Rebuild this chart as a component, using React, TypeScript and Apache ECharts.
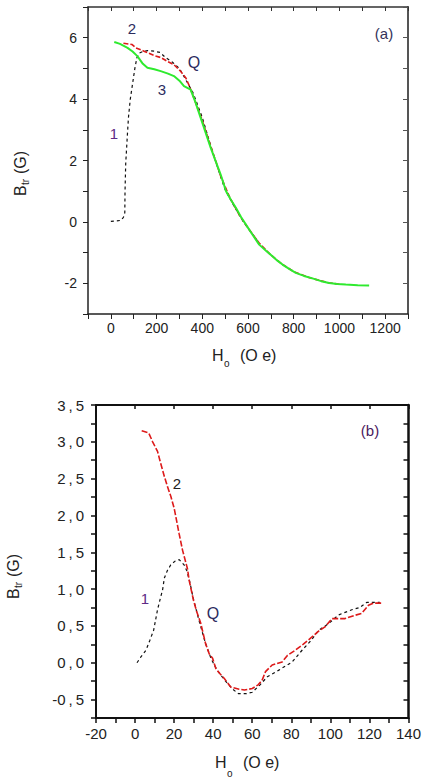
import React, { useEffect, useRef } from "react";
import * as echarts from "echarts";

// ---------- Data: panel (a) ----------
const curveA1: [number, number][] = [
  [0, 0.02], [20, 0.03], [44, 0.05], [55, 0.15], [61, 0.3], [62, 1.0], [65, 1.9], [72, 2.8],
  [77, 3.4], [85, 4.0], [95, 4.5], [105, 5.0], [114, 5.35], [125, 5.5], [140, 5.55], [160, 5.58],
  [190, 5.56], [215, 5.52], [240, 5.35], [270, 5.2], [300, 5.0], [330, 4.6], [360, 4.2], [400, 3.4],
  [440, 2.4], [470, 1.7], [500, 1.05], [540, 0.5], [580, 0.0], [620, -0.4], [650, -0.7],
];
const curveA2: [number, number][] = [
  [55, 5.82], [92, 5.78], [109, 5.67], [145, 5.56], [189, 5.42], [220, 5.35], [247, 5.23],
  [276, 5.12], [306, 4.9], [328, 4.69], [345, 4.4], [370, 3.9], [400, 3.3], [440, 2.4], [480, 1.5],
  [520, 0.8], [560, 0.25], [600, -0.2], [650, -0.7], [700, -1.08], [750, -1.38], [800, -1.62],
  [870, -1.82], [900, -1.88], [950, -1.98], [1000, -2.03],
];
const curveA3: [number, number][] = [
  [15, 5.86], [40, 5.8], [73, 5.67], [95, 5.55], [116, 5.4], [140, 5.15], [160, 5.02], [190, 4.97],
  [218, 4.91], [250, 4.83], [276, 4.75], [300, 4.6], [320, 4.42], [349, 4.31], [370, 3.9],
  [393, 3.39], [415, 2.9], [437, 2.41], [460, 1.95], [480, 1.55], [504, 1.0], [525, 0.72],
  [547, 0.46], [570, 0.15], [591, -0.09], [620, -0.42], [649, -0.74], [680, -0.95], [707, -1.12],
  [730, -1.27], [751, -1.39], [780, -1.53], [809, -1.66], [845, -1.76], [882, -1.84], [920, -1.93],
  [955, -1.99], [990, -2.02], [1028, -2.04], [1080, -2.06], [1130, -2.07],
];

// ---------- Data: panel (b) ----------
const curveB1: [number, number][] = [
  [1, 0], [3, 0.08], [5.6, 0.17], [7.5, 0.3], [9.5, 0.44], [11.5, 0.72], [13, 0.88], [14.1, 0.99],
  [15, 1.15], [16.5, 1.25], [18.3, 1.33], [20.5, 1.38], [22.6, 1.4], [24, 1.36], [25.1, 1.33],
  [26.5, 1.25], [28, 1.1], [30, 0.85], [33, 0.55], [36, 0.27], [39, 0.05], [42, -0.1], [46, -0.24],
  [50, -0.36], [53, -0.42], [57, -0.42], [60, -0.4], [64, -0.3], [67.7, -0.19], [73.6, -0.1],
  [80.4, 0.01], [85.5, 0.17], [90, 0.3], [94, 0.44], [99, 0.53], [104.2, 0.65], [111, 0.72],
  [115, 0.75], [118.6, 0.82], [125.3, 0.82],
];
const curveB2: [number, number][] = [
  [3.4, 3.15], [7, 3.12], [9, 3.0], [11.5, 2.87], [13, 2.72], [15, 2.53], [16.5, 2.4], [18.3, 2.26],
  [20, 2.1], [20.9, 1.98], [22.5, 1.76], [24.3, 1.53], [26.8, 1.28], [27.7, 1.12], [29.9, 0.85],
  [31.5, 0.7], [33.6, 0.54], [36.1, 0.26], [38, 0.12], [39.7, 0.06], [41.4, -0.08], [43.5, -0.15],
  [45.6, -0.21], [49, -0.33], [53.3, -0.36], [56, -0.37], [60, -0.35], [63, -0.3], [65, -0.24],
  [66.8, -0.12], [70.2, -0.03], [75.3, 0.01], [78, 0.1], [82, 0.17], [86, 0.25], [90.6, 0.35],
  [94, 0.43], [97.4, 0.49], [100.8, 0.6], [107.5, 0.6], [112, 0.64], [116, 0.67], [119.5, 0.78],
  [122, 0.81], [126, 0.81],
];

const FONT = "'Liberation Sans', Arial, sans-serif";
const TXT = "#222";

function axisBase(color: string, width: number) {
  return {
    type: "value" as const,
    axisLine: { show: true, onZero: false, lineStyle: { color, width } },
    splitLine: { show: false },
  };
}

function yTitle(cx: number, cy: number) {
  return {
    type: "group",
    x: cx,
    y: cy,
    rotation: Math.PI / 2,
    silent: true,
    children: [
      { type: "text", x: -26, y: 0, style: { text: "B", fontSize: 16, fontFamily: FONT, fill: TXT, align: "left", verticalAlign: "middle" } },
      { type: "text", x: -15, y: 5, style: { text: "tr", fontSize: 10, fontFamily: FONT, fill: TXT, align: "left", verticalAlign: "middle" } },
      { type: "text", x: -4, y: 0, style: { text: "(G)", fontSize: 16, fontFamily: FONT, fill: TXT, align: "left", verticalAlign: "middle" } },
    ],
  };
}

function xTitle(x: number, y: number, subDy: number, parenX: number) {
  return {
    type: "group",
    silent: true,
    children: [
      { type: "text", x, y, style: { text: "H", fontSize: 16, fontFamily: FONT, fill: TXT, align: "left", verticalAlign: "middle" } },
      { type: "text", x: x + 12, y: y + subDy, style: { text: "o", fontSize: 10, fontFamily: FONT, fill: TXT, align: "left", verticalAlign: "middle" } },
      { type: "text", x: parenX, y, style: { text: "(O e)", fontSize: 16, fontFamily: FONT, fill: TXT, align: "left", verticalAlign: "middle" } },
    ],
  };
}

function label(text: string, x: number, y: number, fill: string, size = 15) {
  return {
    type: "text",
    x,
    y,
    silent: true,
    style: { text, fontSize: size, fontFamily: FONT, fill, align: "center", verticalAlign: "middle" },
  };
}

const isHalf = (v: number) => Math.abs(v * 2 - Math.round(v * 2)) < 1e-6;

export default function App() {
  const ref = useRef<HTMLDivElement>(null);

  useEffect(() => {
    if (!ref.current) return;
    const chart = echarts.init(ref.current, null, { renderer: "svg" });

    const option: any = {
      animation: false,
      backgroundColor: "#fff",
      grid: [
        { left: 88, top: 7, width: 320, height: 307 },
        { left: 96, top: 405, width: 314, height: 313 },
      ],
      xAxis: [
        {
          ...axisBase("#222", 1.5),
          gridIndex: 0,
          position: "bottom",
          min: -100,
          max: 1300,
          interval: 100,
          axisTick: { show: true, inside: false, length: 5, lineStyle: { color: "#222" } },
          axisLabel: {
            margin: 7,
            fontSize: 14,
            fontFamily: FONT,
            color: TXT,
            formatter: (v: number) => (v % 200 === 0 && v >= 0 && v <= 1200 ? String(v) : ""),
          },
        },
        {
          ...axisBase("#333", 1.5),
          gridIndex: 0,
          position: "top",
          min: -100,
          max: 1300,
          interval: 100,
          axisTick: { show: true, inside: true, length: 4, lineStyle: { color: "#333" } },
          axisLabel: { show: false },
        },
        {
          ...axisBase("#111", 2),
          gridIndex: 1,
          position: "bottom",
          min: -20,
          max: 140,
          interval: 10,
          axisTick: { show: true, inside: false, length: 5, lineStyle: { color: "#111", width: 1.5 } },
          axisLabel: {
            margin: 8,
            fontSize: 15,
            fontFamily: FONT,
            color: TXT,
            formatter: (v: number) => (v % 20 === 0 ? String(v) : ""),
          },
        },
        {
          ...axisBase("#111", 2),
          gridIndex: 1,
          position: "top",
          min: -20,
          max: 140,
          interval: 20,
          axisTick: { show: true, inside: true, length: 4, lineStyle: { color: "#111", width: 1.5 } },
          axisLabel: { show: false },
        },
      ],
      yAxis: [
        {
          ...axisBase("#222", 1.5),
          gridIndex: 0,
          position: "left",
          min: -3,
          max: 7,
          interval: 1,
          axisTick: { show: true, inside: false, length: 5, lineStyle: { color: "#222" } },
          axisLabel: {
            margin: 11,
            fontSize: 14,
            fontFamily: FONT,
            color: TXT,
            formatter: (v: number) => (v % 2 === 0 ? String(v) : ""),
          },
        },
        {
          ...axisBase("#555", 2),
          gridIndex: 0,
          position: "right",
          min: -3,
          max: 7,
          interval: 1,
          axisTick: { show: true, inside: true, length: 5, lineStyle: { color: "#555" } },
          axisLabel: { show: false },
        },
        {
          ...axisBase("#111", 2),
          gridIndex: 1,
          position: "left",
          min: -0.75,
          max: 3.5,
          interval: 0.25,
          axisTick: { show: true, inside: false, length: 5, lineStyle: { color: "#111", width: 1.5 } },
          axisLabel: {
            margin: 12,
            fontSize: 15,
            fontFamily: FONT,
            color: TXT,
            formatter: (v: number) => (isHalf(v) ? v.toFixed(1).replace(".", "\u2009,\u2009") : ""),
          },
        },
        {
          ...axisBase("#111", 2.5),
          gridIndex: 1,
          position: "right",
          min: -0.75,
          max: 3.5,
          interval: 0.25,
          axisTick: { show: true, inside: true, length: 5, lineStyle: { color: "#111", width: 1.5 } },
          axisLabel: { show: false },
        },
      ],
      series: [
        {
          type: "line", xAxisIndex: 0, yAxisIndex: 0, data: curveA1, showSymbol: false,
          lineStyle: { color: "#111", width: 1.2, type: [3, 3] },
        },
        {
          type: "line", xAxisIndex: 0, yAxisIndex: 0, data: curveA2, showSymbol: false,
          lineStyle: { color: "#dd1a1a", width: 1.6, type: [5, 2] },
        },
        {
          type: "line", xAxisIndex: 0, yAxisIndex: 0, data: curveA3, showSymbol: false,
          lineStyle: { color: "#2eea2e", width: 2 },
        },
        {
          type: "line", xAxisIndex: 2, yAxisIndex: 2, data: curveB1, showSymbol: false,
          lineStyle: { color: "#111", width: 1.2, type: [3, 3] },
        },
        {
          type: "line", xAxisIndex: 2, yAxisIndex: 2, data: curveB2, showSymbol: false,
          lineStyle: { color: "#dd1a1a", width: 1.6, type: [6, 2] },
        },
      ],
      graphic: [
        yTitle(20, 170),
        yTitle(13, 573),
        xTitle(212, 355, 8, 240),
        xTitle(215, 762, 11, 243),
        label("(a)", 384, 33, "#33335a"),
        label("2", 132, 28, "#2c2c5e"),
        label("Q", 194, 62, "#2c2c5e", 16),
        label("3", 162, 89, "#2c2c5e"),
        label("1", 114, 133, "#5e2a86"),
        label("(b)", 370, 430, "#4a2060"),
        label("2", 177, 483, "#222"),
        label("1", 145, 598, "#5e2a86"),
        label("Q", 213, 613, "#2c2c5e", 16),
      ],
    };

    chart.setOption(option);
    return () => chart.dispose();
  }, []);

  return (
    <div
      ref={ref}
      style={{ position: "absolute", left: 0, top: 0, width: 424, height: 778, background: "#fff" }}
    />
  );
}
